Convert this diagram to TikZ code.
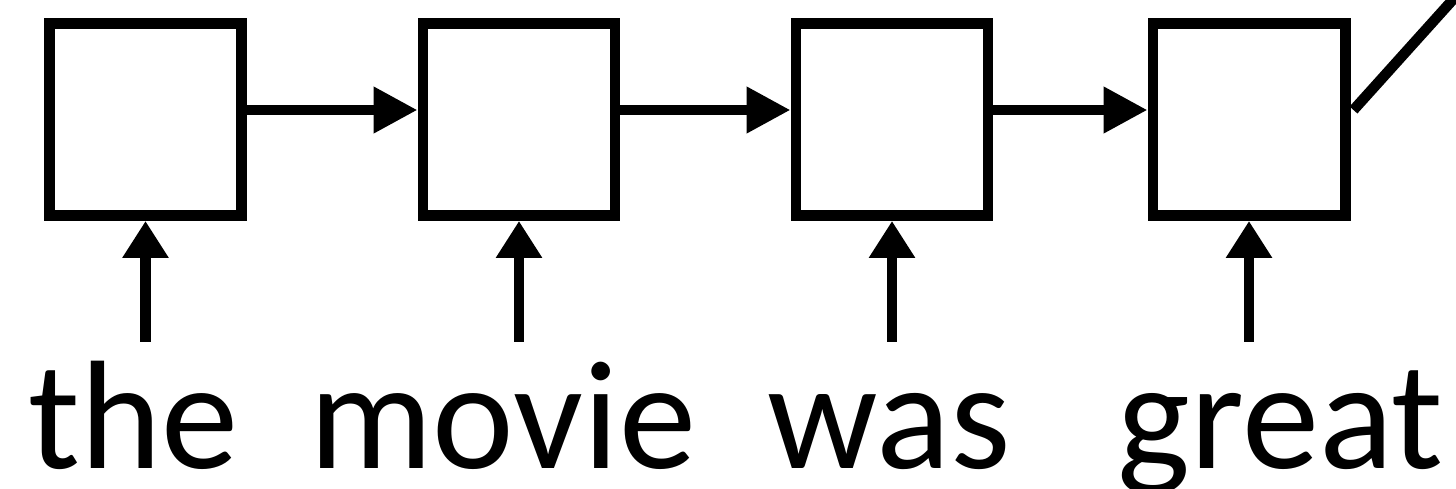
\documentclass[tikz,border=0pt]{standalone}
\usepackage{fontspec}
\setmainfont{Carlito}
\usetikzlibrary{arrows.meta}

\begin{document}
\begin{tikzpicture}[
    x=0.02cm,
    y=0.02cm,
    cell/.style={draw, line width=0.21cm, minimum size=3.85cm, inner sep=0pt},
    word/.style={anchor=base west, inner sep=0pt, font=\fontsize{88pt}{92pt}\selectfont},
    link/.style={line width=0.21cm, -{Triangle[length=0.88cm,width=0.88cm]}},
    feed/.style={line width=0.21cm, -{Triangle[length=0.74cm,width=0.88cm]}}
]
\useasboundingbox (0,0) rectangle (1456,488);
\clip (0,0) rectangle (1456,488);

\foreach \name/\x in {c1/145.5, c2/519, c3/892, c4/1249}
    \node[cell] (\name) at (\x,368.5) {};

\foreach \name/\x/\txt in {w1/28/the, w2/309/movie, w3/767/was, w4/1117/great}
    \node[word] (\name) at (\x,20) {\txt};

\foreach \a/\b in {c1/c2, c2/c3, c3/c4}
    \draw[link] ([yshift=0.19cm]\a.east) -- ([yshift=0.19cm]\b.west);

\foreach \name in {c1,c2,c3,c4} {
    \coordinate (\name in) at ([yshift=-2.42cm]\name.south);
    \draw[feed] (\name in) -- (\name.south);
}

\coordinate (out) at ([shift={(0.06cm,0.19cm)}]c4.east);
\coordinate (out end) at ([shift={(48:3.5cm)}]out);
\draw[line width=0.21cm] (out) -- (out end);

\end{tikzpicture}
\end{document}
